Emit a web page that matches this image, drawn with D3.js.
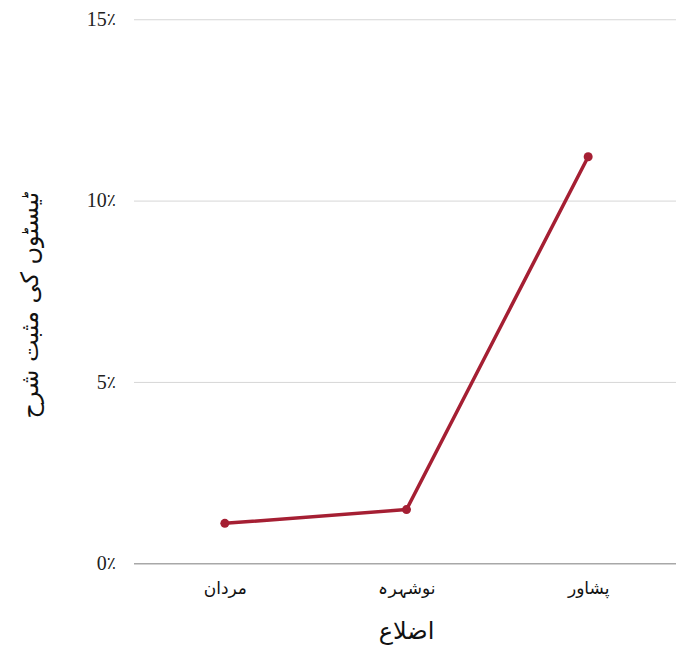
<!DOCTYPE html>
<html>
<head>
<meta charset="utf-8">
<script src="https://cdn.jsdelivr.net/npm/d3@7"></script>
<style>
  html, body { margin: 0; padding: 0; background: #fff; }
  svg { display: block; }
</style>
</head>
<body>
<svg id="chart" width="676" height="648"></svg>
<script>
const districts = ["مردان", "نوشہرہ", "پشاور"];
const positivityRate = [1.10, 1.48, 11.21];
const yTicks = [0, 5, 10, 15];
const yTickLabels = ["0", "5", "10", "15"];
const percentSign = "٪";
const xTitle = "اضلاع";
const yTitle = "ٹیسٹوں کی مثبت شرح";

const W = 676, H = 648;
const svg = d3.select("#chart");
const margin = { left: 134, right: -3, top: 19, bottom: 85 };

const x = d3.scalePoint().domain(districts).range([margin.left, W - margin.right]).padding(0.5);
const y = d3.scaleLinear().domain([0, 15]).range([563.25, 19.25]);

const urdu = "'DejaVu Sans', sans-serif";
const serif = "'Liberation Serif', 'Times New Roman', serif";

// gridlines
const grid = svg.append("g")
  .attr("transform", `translate(${margin.left},0)`)
  .call(d3.axisLeft(y).tickValues(yTicks).tickSize(-(W - margin.left)).tickFormat(""));
grid.select(".domain").remove();
grid.selectAll(".tick line")
  .attr("stroke", d => d === 0 ? "#a8a8a8" : "#d6d6d6")
  .attr("stroke-width", d => d === 0 ? 1.6 : 1);

// y tick labels
const yAxis = svg.append("g")
  .attr("transform", `translate(${margin.left},0)`)
  .call(d3.axisLeft(y).tickValues(yTicks).tickSize(0).tickPadding(18).tickFormat(""));
yAxis.select(".domain").remove();
yAxis.selectAll(".tick text").each(function (d, i) {
  const t = d3.select(this)
    .attr("direction", "ltr")
    .attr("font-family", serif)
    .attr("font-size", 20)
    .attr("fill", "#222");
  t.append("tspan").text(yTickLabels[i]);
  t.append("tspan").attr("font-family", urdu).attr("font-size", 17).attr("dy", -1).text(percentSign);
});

// x axis labels
const xAxis = svg.append("g")
  .attr("transform", `translate(0,${y(0)})`)
  .call(d3.axisBottom(x).tickSize(0).tickPadding(19));
xAxis.select(".domain").remove();
xAxis.selectAll("text")
  .attr("font-family", urdu)
  .attr("font-size", 17)
  .attr("fill", "#111");

// axis titles
svg.append("text")
  .attr("x", x(districts[1]))
  .attr("y", 639)
  .attr("text-anchor", "middle")
  .attr("font-family", urdu)
  .attr("font-size", 24)
  .attr("fill", "#111")
  .text(xTitle);

svg.append("text")
  .attr("transform", `translate(38,${(y(0) + y(15)) / 2 + 14}) rotate(-90)`)
  .attr("text-anchor", "middle")
  .attr("font-family", urdu)
  .attr("font-size", 24)
  .attr("fill", "#111")
  .text(yTitle);

// line
const data = districts.map((d, i) => ({ d, v: positivityRate[i] }));
const color = "#a51f33";
svg.append("path")
  .datum(data)
  .attr("fill", "none")
  .attr("stroke", color)
  .attr("stroke-width", 3.5)
  .attr("stroke-linejoin", "round")
  .attr("d", d3.line().x(p => x(p.d)).y(p => y(p.v)));

svg.selectAll("circle.pt")
  .data(data)
  .join("circle")
  .attr("class", "pt")
  .attr("cx", p => x(p.d))
  .attr("cy", p => y(p.v))
  .attr("r", 4.5)
  .attr("fill", color);
</script>
</body>
</html>
